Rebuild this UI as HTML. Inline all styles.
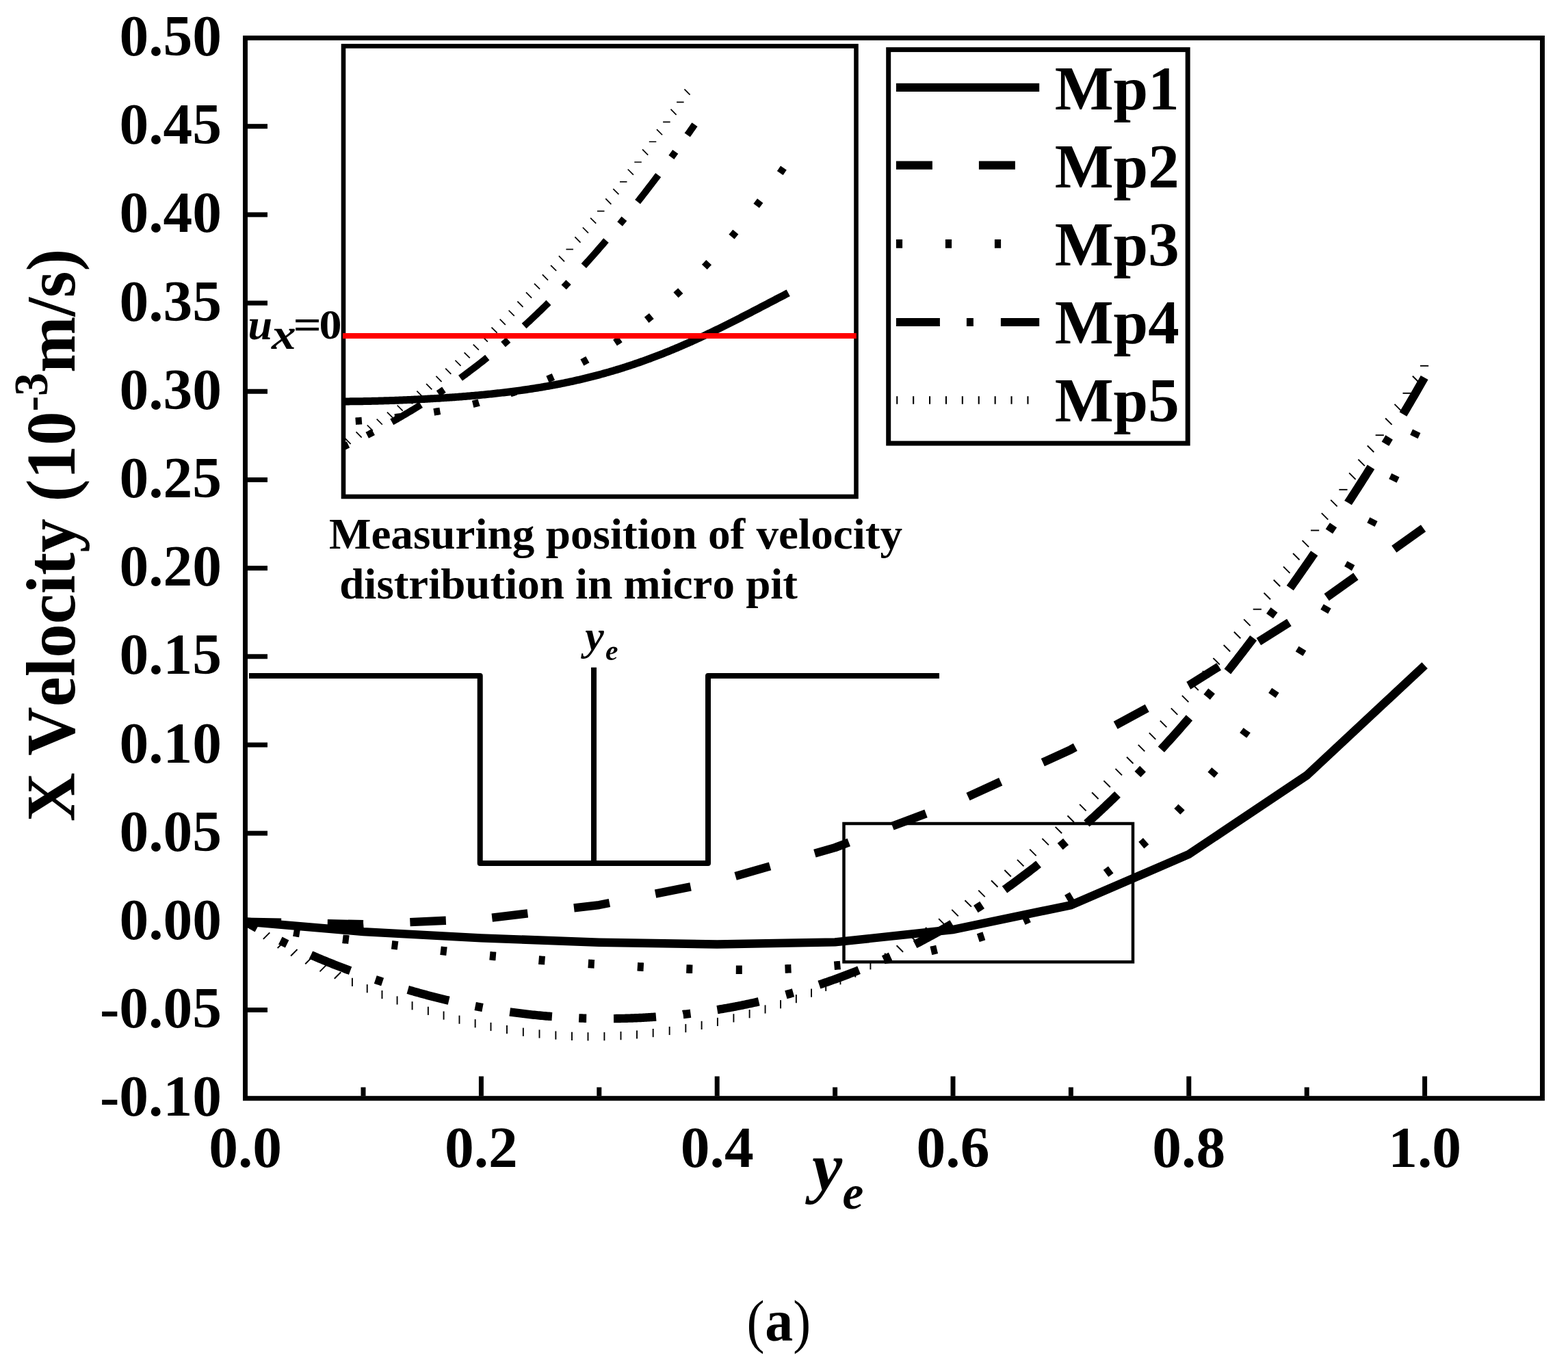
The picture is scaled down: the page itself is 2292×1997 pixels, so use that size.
<!DOCTYPE html><html><head><meta charset="utf-8"><title>X Velocity plot</title><style>html,body{margin:0;padding:0;background:#fff;}svg{display:block;font-kerning:none;font-variant-ligatures:none;}text{font-kerning:none;}</style></head><body><svg width="2292" height="1997" viewBox="0 0 2292 1997"><rect width="100%" height="100%" fill="#fff"/><g fill="none" stroke="#000" stroke-linejoin="round">
<path d="M358.6 1347.4 L531 1362.1 L703.4 1371.4 L875.8 1377.7 L1048.2 1380.5 L1220.6 1377.4 L1393 1359 L1565.4 1323.2 L1737.8 1248.9 L1910.2 1133.5 L2082.6 972.8" stroke-width="12.4" stroke-linejoin="miter"/>
<path d="M478.75 1350.19 L531 1351.32 L531.24 1351.3" stroke-width="12.4"/>
<path d="M599.38 1348.18 L651.82 1345.78" stroke-width="12.4"/>
<path d="M719.23 1341.54 L771.36 1335.38" stroke-width="12.4"/>
<path d="M839 1327.39 L875.8 1323.04 L890.94 1320.01" stroke-width="12.4"/>
<path d="M958.07 1306.61 L1009.56 1296.33" stroke-width="12.4"/>
<path d="M1075.1 1280.88 L1125.56 1266.39" stroke-width="12.4"/>
<path d="M1190.89 1247.63 L1220.6 1239.1 L1240.82 1231.54" stroke-width="12.4"/>
<path d="M1304.39 1207.77 L1353.56 1189.39" stroke-width="12.4"/>
<path d="M1414.99 1164.59 L1462.73 1142.75" stroke-width="12.4"/>
<path d="M1524.29 1114.59 L1565.4 1095.79 L1571.81 1092.3" stroke-width="12.4"/>
<path d="M1630.64 1060.29 L1676.75 1035.19" stroke-width="12.4"/>
<path d="M1737.24 1002.26 L1737.8 1001.96 L1781.73 974.4" stroke-width="12.4"/>
<path d="M1839.9 937.91 L1884.37 910.01" stroke-width="12.4"/>
<path d="M1939.15 873.16 L1981.88 842.67" stroke-width="12.4"/>
<path d="M2037.77 802.79 L2080.51 772.3" stroke-width="12.4"/>
<path d="M358.6 1347.6 L411.09 1348.73" stroke-width="12.4"/>
<path d="M429.22 1362.52 L430.6 1362.76 L432.6 1363.09 L434.6 1363.42 L436.6 1363.74 L438.1 1363.98" stroke-width="12.6"/>
<path d="M500.95 1372.68 L502.6 1372.88 L504.6 1373.12 L506.6 1373.37 L508.6 1373.61 L509.88 1373.77" stroke-width="12.6"/>
<path d="M572.61 1381.3 L574.6 1381.53 L576.6 1381.77 L578.6 1382.01 L580.6 1382.25 L581.55 1382.37" stroke-width="12.6"/>
<path d="M644.01 1389.66 L644.6 1389.73 L646.6 1389.95 L648.6 1390.18 L650.6 1390.4 L652.6 1390.62 L652.95 1390.66" stroke-width="12.6"/>
<path d="M715.91 1397.23 L716.6 1397.3 L718.6 1397.49 L720.6 1397.68 L722.6 1397.87 L724.6 1398.06 L724.86 1398.08" stroke-width="12.6"/>
<path d="M787.52 1403.51 L788.6 1403.6 L790.6 1403.76 L792.6 1403.91 L794.6 1404.07 L796.49 1404.22" stroke-width="12.6"/>
<path d="M859.82 1408.8 L860.6 1408.85 L862.6 1408.99 L864.6 1409.12 L866.6 1409.26 L868.6 1409.39 L868.8 1409.4" stroke-width="12.6"/>
<path d="M931.8 1413.26 L932.6 1413.31 L934.6 1413.42 L936.6 1413.53 L938.6 1413.63 L940.6 1413.74 L940.79 1413.75" stroke-width="12.6"/>
<path d="M1003.3 1416.49 L1004.6 1416.54 L1006.6 1416.6 L1008.6 1416.66 L1010.6 1416.73 L1012.29 1416.78" stroke-width="12.6"/>
<path d="M1075.8 1417.81 L1076.6 1417.82 L1078.6 1417.82 L1080.6 1417.82 L1082.6 1417.81 L1084.6 1417.81 L1084.8 1417.81" stroke-width="12.6"/>
<path d="M1147.5 1416.48 L1148.6 1416.44 L1150.6 1416.36 L1152.6 1416.27 L1154.6 1416.18 L1156.5 1416.1" stroke-width="12.6"/>
<path d="M1219.43 1411.83 L1220.6 1411.73 L1222.6 1411.54 L1224.6 1411.35 L1226.6 1411.16 L1228.39 1410.99" stroke-width="12.6"/>
<path d="M1292.4 1402.96 L1292.6 1402.93 L1294.6 1402.62 L1296.6 1402.3 L1298.6 1401.98 L1300.6 1401.66 L1301.29 1401.54" stroke-width="12.6"/>
<path d="M1360.85 1389.91 L1362.6 1389.51 L1364.6 1389.04 L1366.6 1388.57 L1368.6 1388.1 L1369.61 1387.86" stroke-width="12.6"/>
<path d="M1429.8 1371.14 L1430.6 1370.88 L1432.6 1370.24 L1434.6 1369.59 L1436.6 1368.93 L1438.36 1368.35" stroke-width="12.6"/>
<path d="M1496 1346.25 L1496.6 1345.98 L1498.6 1345.1 L1500.6 1344.21 L1502.6 1343.32 L1504.22 1342.58" stroke-width="12.6"/>
<path d="M1559.26 1314.23 L1560.6 1313.45 L1562.6 1312.28 L1564.6 1311.1 L1566.6 1309.91 L1567.02 1309.66" stroke-width="12.6"/>
<path d="M1616.52 1276.87 L1616.6 1276.81 L1618.6 1275.35 L1620.6 1273.88 L1622.6 1272.4 L1623.77 1271.53" stroke-width="12.6"/>
<path d="M1668.35 1235.63 L1668.6 1235.42 L1670.6 1233.68 L1672.6 1231.93 L1674.6 1230.17 L1675.12 1229.71" stroke-width="12.6"/>
<path d="M1720.78 1186.44 L1722.6 1184.59 L1724.6 1182.55 L1726.6 1180.5 L1727.07 1180.01" stroke-width="12.6"/>
<path d="M1770.17 1132.9 L1770.6 1132.41 L1772.6 1130.08 L1774.6 1127.75 L1776.03 1126.07" stroke-width="12.6"/>
<path d="M1817.18 1074.96 L1818.6 1073.1 L1820.6 1070.46 L1822.6 1067.82 L1822.62 1067.79" stroke-width="12.6"/>
<path d="M1859.35 1016.64 L1860.6 1014.82 L1862.6 1011.88 L1864.42 1009.2" stroke-width="12.6"/>
<path d="M1899.12 955.7 L1900.6 953.31 L1902.6 950.08 L1903.85 948.05" stroke-width="12.6"/>
<path d="M1935.77 894.14 L1936.6 892.68 L1938.6 889.17 L1940.22 886.31" stroke-width="12.6"/>
<path d="M1970.58 831.12 L1970.6 831.09 L1972.6 827.35 L1974.6 823.59 L1974.82 823.18" stroke-width="12.6"/>
<path d="M2003.89 767.22 L2004.6 765.82 L2006.6 761.88 L2007.96 759.19" stroke-width="12.6"/>
<path d="M2035.9 702.92 L2036.6 701.48 L2038.6 697.38 L2039.84 694.83" stroke-width="12.6"/>
<path d="M2066.85 638.45 L2068.6 634.76 L2070.6 630.52 L2070.7 630.31" stroke-width="12.6"/>
<path d="M362.47 1348.48 L362.6 1348.51 L364.6 1349.03 L366.6 1349.54 L368.6 1350.04 L370.6 1350.53 L371.2 1350.68" stroke-width="12.6"/>
<path d="M358.6 1347.26 L360.6 1348.44 L362.6 1349.61 L364.6 1350.77 L366.6 1351.92 L368.6 1353.07 L370.6 1354.21 L372.6 1355.34 L374.6 1356.47 L375.59 1357.02" stroke-width="12.4"/>
<path d="M454.54 1396.05 L454.6 1396.08 L456.6 1396.95 L458.6 1397.81 L460.6 1398.67 L462.6 1399.52 L464.6 1400.37 L466.6 1401.21 L468.6 1402.05 L470.6 1402.88 L472.6 1403.71 L474.6 1404.53 L476.6 1405.35 L478.6 1406.16 L480.6 1406.97 L482.6 1407.78 L484.6 1408.57 L486.6 1409.37 L488.6 1410.16 L490.6 1410.94 L492.6 1411.73 L494.6 1412.5 L496.6 1413.28 L498.6 1414.04 L500.6 1414.81 L502.6 1415.57 L504.6 1416.32 L506.6 1417.07 L508.6 1417.82 L510.6 1418.56 L512.08 1419.11" stroke-width="12.4"/>
<path d="M596.21 1446.97 L596.6 1447.08 L598.6 1447.66 L600.6 1448.24 L602.6 1448.82 L604.6 1449.39 L606.6 1449.95 L608.6 1450.52 L610.6 1451.08 L612.6 1451.63 L614.6 1452.19 L616.6 1452.73 L618.6 1453.28 L620.6 1453.82 L622.6 1454.35 L624.6 1454.89 L626.6 1455.42 L628.6 1455.94 L630.6 1456.46 L632.6 1456.98 L634.6 1457.49 L636.6 1458 L638.6 1458.5 L640.6 1459.01 L642.6 1459.5 L644.6 1460 L646.6 1460.48 L648.6 1460.97 L650.6 1461.45 L652.6 1461.93 L654.6 1462.4 L656.16 1462.76" stroke-width="12.4"/>
<path d="M745.25 1479.44 L746.6 1479.63 L748.6 1479.9 L750.6 1480.17 L752.6 1480.44 L754.6 1480.7 L756.6 1480.96 L758.6 1481.22 L760.6 1481.47 L762.6 1481.71 L764.6 1481.96 L766.6 1482.19 L768.6 1482.43 L770.6 1482.66 L772.6 1482.88 L774.6 1483.11 L776.6 1483.32 L778.6 1483.54 L780.6 1483.75 L782.6 1483.95 L784.6 1484.15 L786.6 1484.35 L788.6 1484.54 L790.6 1484.73 L792.6 1484.92 L794.6 1485.1 L796.6 1485.27 L798.6 1485.45 L800.6 1485.62 L802.6 1485.78 L804.6 1485.94 L806.6 1486.1 L806.88 1486.12" stroke-width="12.4"/>
<path d="M897.02 1489.1 L898.6 1489.09 L900.6 1489.06 L902.6 1489.03 L904.6 1489 L906.6 1488.96 L908.6 1488.92 L910.6 1488.88 L912.6 1488.83 L914.6 1488.78 L916.6 1488.72 L918.6 1488.66 L920.6 1488.59 L922.6 1488.53 L924.6 1488.45 L926.6 1488.38 L928.6 1488.3 L930.6 1488.21 L932.6 1488.13 L934.6 1488.03 L936.6 1487.94 L938.6 1487.84 L940.6 1487.74 L942.6 1487.63 L944.6 1487.52 L946.6 1487.4 L948.6 1487.28 L950.6 1487.16 L952.6 1487.03 L954.6 1486.9 L956.6 1486.77 L958.6 1486.63 L958.96 1486.6" stroke-width="12.4"/>
<path d="M1048.41 1476.17 L1048.6 1476.14 L1050.6 1475.81 L1052.6 1475.48 L1054.6 1475.14 L1056.6 1474.8 L1058.6 1474.46 L1060.6 1474.11 L1062.6 1473.75 L1064.6 1473.39 L1066.6 1473.03 L1068.6 1472.66 L1070.6 1472.29 L1072.6 1471.92 L1074.6 1471.54 L1076.6 1471.15 L1078.6 1470.77 L1080.6 1470.37 L1082.6 1469.98 L1084.6 1469.57 L1086.6 1469.17 L1088.6 1468.76 L1090.6 1468.34 L1092.6 1467.92 L1094.6 1467.5 L1096.6 1467.07 L1098.6 1466.64 L1100.6 1466.2 L1102.6 1465.76 L1104.6 1465.32 L1106.6 1464.87 L1108.6 1464.41 L1109.24 1464.26" stroke-width="12.4"/>
<path d="M1197.41 1439.59 L1198.6 1439.19 L1200.6 1438.52 L1202.6 1437.85 L1204.6 1437.17 L1206.6 1436.49 L1208.6 1435.8 L1210.6 1435.11 L1212.6 1434.41 L1214.6 1433.7 L1216.6 1432.99 L1218.6 1432.28 L1220.6 1431.56 L1222.6 1430.84 L1224.6 1430.11 L1226.6 1429.38 L1228.6 1428.64 L1230.6 1427.9 L1232.6 1427.15 L1234.6 1426.4 L1236.6 1425.64 L1238.6 1424.88 L1240.6 1424.11 L1242.6 1423.33 L1244.6 1422.56 L1246.6 1421.77 L1248.6 1420.98 L1250.6 1420.19 L1252.6 1419.39 L1254.6 1418.59 L1255.59 1418.19" stroke-width="12.4"/>
<path d="M1337.49 1380.58 L1338.6 1380.01 L1340.6 1378.98 L1342.6 1377.93 L1344.6 1376.89 L1346.6 1375.83 L1348.6 1374.77 L1350.6 1373.71 L1352.6 1372.64 L1354.6 1371.56 L1356.6 1370.48 L1358.6 1369.39 L1360.6 1368.3 L1362.6 1367.2 L1364.6 1366.09 L1366.6 1364.98 L1368.6 1363.86 L1370.6 1362.74 L1372.6 1361.61 L1374.6 1360.47 L1376.6 1359.33 L1378.6 1358.19 L1380.6 1357.03 L1382.6 1355.88 L1384.6 1354.71 L1386.6 1353.54 L1388.6 1352.37 L1390.6 1351.18 L1391.71 1350.52" stroke-width="12.4"/>
<path d="M1468.48 1300.44 L1468.6 1300.35 L1470.6 1298.92 L1472.6 1297.49 L1474.6 1296.05 L1476.6 1294.61 L1478.6 1293.16 L1480.6 1291.7 L1482.6 1290.24 L1484.6 1288.77 L1486.6 1287.29 L1488.6 1285.81 L1490.6 1284.32 L1492.6 1282.83 L1494.6 1281.33 L1496.6 1279.82 L1498.6 1278.31 L1500.6 1276.79 L1502.6 1275.26 L1504.6 1273.73 L1506.6 1272.19 L1508.6 1270.65 L1510.6 1269.1 L1512.6 1267.54 L1514.6 1265.98 L1516.6 1264.41 L1518.08 1263.24" stroke-width="12.4"/>
<path d="M1588.35 1203.87 L1588.6 1203.65 L1590.6 1201.84 L1592.6 1200.03 L1594.6 1198.21 L1596.6 1196.38 L1598.6 1194.55 L1600.6 1192.71 L1602.6 1190.86 L1604.6 1189.01 L1606.6 1187.15 L1608.6 1185.28 L1610.6 1183.41 L1612.6 1181.53 L1614.6 1179.64 L1616.6 1177.75 L1618.6 1175.85 L1620.6 1173.94 L1622.6 1172.03 L1624.6 1170.11 L1626.6 1168.18 L1628.6 1166.25 L1630.6 1164.31 L1632.6 1162.36 L1633.55 1161.43" stroke-width="12.4"/>
<path d="M1697.28 1095.67 L1698.6 1094.23 L1700.6 1092.05 L1702.6 1089.86 L1704.6 1087.66 L1706.6 1085.45 L1708.6 1083.24 L1710.6 1081.02 L1712.6 1078.79 L1714.6 1076.56 L1716.6 1074.32 L1718.6 1072.07 L1720.6 1069.81 L1722.6 1067.55 L1724.6 1065.28 L1726.6 1063 L1728.6 1060.72 L1730.6 1058.42 L1732.6 1056.13 L1734.6 1053.82 L1736.6 1051.5 L1738.47 1049.34" stroke-width="12.4"/>
<path d="M1794.26 981.7 L1794.6 981.28 L1796.6 978.75 L1798.6 976.22 L1800.6 973.68 L1802.6 971.13 L1804.6 968.58 L1806.6 966.02 L1808.6 963.45 L1810.6 960.88 L1812.6 958.3 L1814.6 955.72 L1816.6 953.12 L1818.6 950.52 L1820.6 947.92 L1822.6 945.31 L1824.6 942.69 L1826.6 940.06 L1828.6 937.43 L1830.6 934.79 L1832.2 932.67" stroke-width="12.4"/>
<path d="M1885.7 859.64 L1886.6 858.37 L1888.6 855.56 L1890.6 852.73 L1892.6 849.9 L1894.6 847.07 L1896.6 844.23 L1898.6 841.38 L1900.6 838.53 L1902.6 835.67 L1904.6 832.81 L1906.6 829.94 L1908.6 827.06 L1910.6 824.18 L1912.6 821.3 L1914.6 818.4 L1916.6 815.51 L1918.6 812.6 L1920.6 809.69 L1921.2 808.82" stroke-width="12.4"/>
<path d="M1970.56 735.02 L1970.6 734.95 L1972.6 731.88 L1974.6 728.8 L1976.6 725.71 L1978.6 722.62 L1980.6 719.51 L1982.6 716.41 L1984.6 713.29 L1986.6 710.17 L1988.6 707.04 L1990.6 703.9 L1992.6 700.76 L1994.6 697.6 L1996.6 694.45 L1998.6 691.28 L2000.6 688.11 L2002.6 684.92 L2003.95 682.78" stroke-width="12.4"/>
<path d="M2051.02 605.56 L2052.6 602.89 L2054.6 599.51 L2056.6 596.11 L2058.6 592.71 L2060.6 589.3 L2062.6 585.88 L2064.6 582.45 L2066.6 579.01 L2068.6 575.57 L2070.6 572.11 L2072.6 568.65 L2074.6 565.18 L2076.6 561.7 L2078.6 558.21 L2080.6 554.71 L2082.17 551.95" stroke-width="12.4"/>
<path d="M409.79 1375.13 L410.6 1375.54 L412.6 1376.54 L414.6 1377.53 L416.6 1378.51 L418.6 1379.49 L419.65 1380" stroke-width="12.4"/>
<path d="M548.73 1432.03 L550.6 1432.65 L552.6 1433.32 L554.6 1433.99 L556.6 1434.65 L558.6 1435.3 L559.17 1435.49" stroke-width="12.4"/>
<path d="M694.68 1471.01 L696.6 1471.38 L698.6 1471.76 L700.6 1472.13 L702.6 1472.51 L704.6 1472.87 L705.5 1473.04" stroke-width="12.4"/>
<path d="M846.2 1488.39 L846.6 1488.41 L848.6 1488.48 L850.6 1488.55 L852.6 1488.62 L854.6 1488.68 L856.6 1488.74 L857.19 1488.75" stroke-width="12.4"/>
<path d="M998.56 1483 L998.6 1482.99 L1000.6 1482.77 L1002.6 1482.54 L1004.6 1482.31 L1006.6 1482.07 L1008.6 1481.83 L1009.48 1481.72" stroke-width="12.4"/>
<path d="M1148.87 1454.29 L1150.6 1453.82 L1152.6 1453.26 L1154.6 1452.7 L1156.6 1452.14 L1158.6 1451.57 L1159.47 1451.32" stroke-width="12.4"/>
<path d="M1426.41 1328.99 L1426.6 1328.87 L1428.6 1327.58 L1430.6 1326.27 L1432.6 1324.96 L1434.6 1323.65 L1435.62 1322.97" stroke-width="12.4"/>
<path d="M1549.66 1237.54 L1550.6 1236.75 L1552.6 1235.07 L1554.6 1233.38 L1556.6 1231.68 L1558.06 1230.44" stroke-width="12.4"/>
<path d="M1662.96 1131.96 L1664.6 1130.27 L1666.6 1128.21 L1668.6 1126.14 L1670.6 1124.06 L1670.61 1124.05" stroke-width="12.4"/>
<path d="M1764.11 1018.93 L1764.6 1018.34 L1766.6 1015.92 L1768.6 1013.49 L1770.6 1011.06 L1771.1 1010.44" stroke-width="12.4"/>
<path d="M1856.05 900.66 L1856.6 899.91 L1858.6 897.19 L1860.6 894.45 L1862.55 891.78" stroke-width="12.4"/>
<path d="M1942.9 776.84 L1944.6 774.31 L1946.6 771.32 L1948.6 768.33 L1949.02 767.7" stroke-width="12.4"/>
<path d="M2024.94 648.88 L2026.6 646.16 L2028.6 642.88 L2030.6 639.6 L2030.67 639.49" stroke-width="12.4"/>
<path d="M1291.52 1402.81 L1292.6 1402.32 L1294.6 1401.41 L1296.6 1400.49 L1298.6 1399.57 L1300.6 1398.65 L1301.51 1398.22" stroke-width="12.4"/>
<path d="M384.82 1372.92L394.3 1363.44" stroke-width="1.9"/>
<path d="M405.69 1386.03L415.17 1376.56" stroke-width="1.9"/>
<path d="M425.07 1397.48L434.54 1388.01" stroke-width="1.9"/>
<path d="M446.25 1409.26L455.73 1399.78" stroke-width="1.9"/>
<path d="M467.47 1420.32L476.95 1410.84" stroke-width="1.9"/>
<path d="M488.77 1430.73L498.24 1421.26" stroke-width="1.9"/>
<path d="M514.9 1429.73L514.9 1441.93" stroke-width="1.9"/>
<path d="M536.72 1439.16L536.72 1451.36" stroke-width="1.9"/>
<path d="M558.47 1447.99L558.47 1460.19" stroke-width="1.9"/>
<path d="M580.57 1456.38L580.57 1468.58" stroke-width="1.9"/>
<path d="M602.58 1464.15L602.58 1476.35" stroke-width="1.9"/>
<path d="M625.85 1471.72L625.85 1483.92" stroke-width="1.9"/>
<path d="M648.57 1478.46L648.57 1490.66" stroke-width="1.9"/>
<path d="M671.48 1484.6L671.48 1496.8" stroke-width="1.9"/>
<path d="M694.64 1490.13L694.64 1502.33" stroke-width="1.9"/>
<path d="M717.5 1494.91L717.5 1507.11" stroke-width="1.9"/>
<path d="M740.97 1499.11L740.97 1511.31" stroke-width="1.9"/>
<path d="M764.83 1502.64L764.83 1514.84" stroke-width="1.9"/>
<path d="M788.49 1505.41L788.49 1517.61" stroke-width="1.9"/>
<path d="M812.36 1507.45L812.36 1519.65" stroke-width="1.9"/>
<path d="M835.99 1508.74L835.99 1520.94" stroke-width="1.9"/>
<path d="M859.5 1509.27L859.5 1521.47" stroke-width="1.9"/>
<path d="M883.4 1509.06L883.4 1521.26" stroke-width="1.9"/>
<path d="M907.5 1508.08L907.5 1520.28" stroke-width="1.9"/>
<path d="M931.01 1506.4L931.01 1518.6" stroke-width="1.9"/>
<path d="M954.67 1504L954.67 1516.2" stroke-width="1.9"/>
<path d="M978.64 1500.88L978.64 1513.08" stroke-width="1.9"/>
<path d="M1002.33 1497.11L1002.33 1509.31" stroke-width="1.9"/>
<path d="M1025.6 1492.79L1025.6 1504.99" stroke-width="1.9"/>
<path d="M1048.9 1487.85L1048.9 1500.05" stroke-width="1.9"/>
<path d="M1072.39 1482.26L1072.39 1494.46" stroke-width="1.9"/>
<path d="M1095.61 1476.11L1095.61 1488.31" stroke-width="1.9"/>
<path d="M1118.55 1469.38L1118.55 1481.58" stroke-width="1.9"/>
<path d="M1141.08 1462.12L1141.08 1474.32" stroke-width="1.9"/>
<path d="M1163.84 1454.08L1163.84 1466.28" stroke-width="1.9"/>
<path d="M1186.07 1445.52L1186.07 1457.72" stroke-width="1.9"/>
<path d="M1207.2 1436.71L1207.2 1448.91" stroke-width="1.9"/>
<path d="M1228.44 1427.15L1228.44 1439.35" stroke-width="1.9"/>
<path d="M1250.33 1416.57L1250.33 1428.77" stroke-width="1.9"/>
<path d="M1272.39 1405.16L1272.39 1417.36" stroke-width="1.9"/>
<path d="M1293.74 1393.44L1293.74 1405.64" stroke-width="1.9"/>
<path d="M1310.61 1382.27L1320.08 1391.74" stroke-width="1.9"/>
<path d="M1331.9 1369.28L1341.38 1378.76" stroke-width="1.9"/>
<path d="M1352.93 1355.85L1362.4 1365.33" stroke-width="1.9"/>
<path d="M1372.12 1343.09L1381.59 1352.57" stroke-width="1.9"/>
<path d="M1391.28 1329.89L1400.75 1339.36" stroke-width="1.9"/>
<path d="M1410.45 1316.21L1419.93 1325.69" stroke-width="1.9"/>
<path d="M1430.25 1301.61L1439.72 1311.08" stroke-width="1.9"/>
<path d="M1449.01 1287.29L1458.48 1296.77" stroke-width="1.9"/>
<path d="M1468.38 1272.03L1477.85 1281.51" stroke-width="1.9"/>
<path d="M1486.98 1256.91L1496.45 1266.39" stroke-width="1.9"/>
<path d="M1505.18 1241.66L1514.65 1251.14" stroke-width="1.9"/>
<path d="M1523.4 1225.93L1532.87 1235.41" stroke-width="1.9"/>
<path d="M1542.65 1208.81L1552.12 1218.29" stroke-width="1.9"/>
<path d="M1560.43 1192.53L1569.9 1202.01" stroke-width="1.9"/>
<path d="M1578.1 1175.9L1587.57 1185.38" stroke-width="1.9"/>
<path d="M1596.1 1158.5L1605.57 1167.97" stroke-width="1.9"/>
<path d="M1613.41 1141.31L1622.89 1150.79" stroke-width="1.9"/>
<path d="M1630.52 1123.91L1639.99 1133.39" stroke-width="1.9"/>
<path d="M1646.99 1106.76L1656.46 1116.23" stroke-width="1.9"/>
<path d="M1663.78 1088.86L1673.26 1098.34" stroke-width="1.9"/>
<path d="M1679.82 1071.4L1689.29 1080.87" stroke-width="1.9"/>
<path d="M1695.83 1053.59L1705.3 1063.06" stroke-width="1.9"/>
<path d="M1711.8 1035.45L1721.27 1044.93" stroke-width="1.9"/>
<path d="M1727.86 1016.84L1737.33 1026.32" stroke-width="1.9"/>
<path d="M1742.35 999.73L1751.83 1009.2" stroke-width="1.9"/>
<path d="M1757.93 980.99L1767.41 990.47" stroke-width="1.9"/>
<path d="M1773.38 962.08L1782.85 971.56" stroke-width="1.9"/>
<path d="M1788.67 943.03L1798.15 952.51" stroke-width="1.9"/>
<path d="M1803.87 923.79L1813.34 933.26" stroke-width="1.9"/>
<path d="M1818.15 905.43L1827.62 914.9" stroke-width="1.9"/>
<path d="M1831.69 890.71L1843.89 890.71" stroke-width="1.9"/>
<path d="M1847.54 866.79L1857.01 876.27" stroke-width="1.9"/>
<path d="M1861.71 847.77L1871.18 857.25" stroke-width="1.9"/>
<path d="M1876 828.33L1885.48 837.81" stroke-width="1.9"/>
<path d="M1890.04 808.99L1899.52 818.47" stroke-width="1.9"/>
<path d="M1903.6 790.1L1913.07 799.58" stroke-width="1.9"/>
<path d="M1916 775.42L1928.2 775.42" stroke-width="1.9"/>
<path d="M1931.79 750.11L1941.26 759.59" stroke-width="1.9"/>
<path d="M1945.16 730.83L1954.63 740.3" stroke-width="1.9"/>
<path d="M1957.34 715.83L1969.54 715.83" stroke-width="1.9"/>
<path d="M1972.08 691.41L1981.55 700.88" stroke-width="1.9"/>
<path d="M1985.37 671.64L1994.85 681.11" stroke-width="1.9"/>
<path d="M1998.79 651.51L2008.26 660.99" stroke-width="1.9"/>
<path d="M2010.64 636.23L2022.84 636.23" stroke-width="1.9"/>
<path d="M2025.12 611.46L2034.59 620.94" stroke-width="1.9"/>
<path d="M2038.47 590.88L2047.95 600.36" stroke-width="1.9"/>
<path d="M2050.48 574.85L2062.68 574.85" stroke-width="1.9"/>
<path d="M2064.83 549.75L2074.31 559.23" stroke-width="1.9"/>
<path d="M2075.92 534.83L2088.12 534.83" stroke-width="1.9"/>
</g>
<g fill="none" stroke="#000" stroke-linecap="butt">
<rect x="358.5" y="55.5" width="1896" height="1550.2" stroke-width="7" stroke-linejoin="miter"/>
<path d="M362 184.68 H391" stroke-width="7"/>
<path d="M362 313.87 H391" stroke-width="7"/>
<path d="M362 443.05 H391" stroke-width="7"/>
<path d="M362 572.23 H391" stroke-width="7"/>
<path d="M362 701.42 H391" stroke-width="7"/>
<path d="M362 830.6 H391" stroke-width="7"/>
<path d="M362 959.78 H391" stroke-width="7"/>
<path d="M362 1088.97 H391" stroke-width="7"/>
<path d="M362 1218.15 H391" stroke-width="7"/>
<path d="M362 1347.33 H391" stroke-width="7"/>
<path d="M362 1476.52 H391" stroke-width="7"/>
<path d="M531 1602.5 V1589.5" stroke-width="7"/>
<path d="M703.4 1602.5 V1573.5" stroke-width="7"/>
<path d="M875.8 1602.5 V1589.5" stroke-width="7"/>
<path d="M1048.2 1602.5 V1573.5" stroke-width="7"/>
<path d="M1220.6 1602.5 V1589.5" stroke-width="7"/>
<path d="M1393 1602.5 V1573.5" stroke-width="7"/>
<path d="M1565.4 1602.5 V1589.5" stroke-width="7"/>
<path d="M1737.8 1602.5 V1573.5" stroke-width="7"/>
<path d="M1910.2 1602.5 V1589.5" stroke-width="7"/>
<path d="M2082.6 1602.5 V1573.5" stroke-width="7"/>
</g>
<g font-family="Liberation Serif" font-weight="bold" font-size="85.5" text-anchor="end">
<text x="324" y="81.1">0.50</text>
<text x="324" y="210.28">0.45</text>
<text x="324" y="339.47">0.40</text>
<text x="324" y="468.65">0.35</text>
<text x="324" y="597.83">0.30</text>
<text x="324" y="727.02">0.25</text>
<text x="324" y="856.2">0.20</text>
<text x="324" y="985.38">0.15</text>
<text x="324" y="1114.57">0.10</text>
<text x="324" y="1243.75">0.05</text>
<text x="324" y="1372.93">0.00</text>
<text x="324" y="1502.12">-0.05</text>
<text x="324" y="1631.3">-0.10</text>
</g>
<g font-family="Liberation Serif" font-weight="bold" font-size="85.5" text-anchor="middle">
<text x="358.6" y="1706.3">0.0</text>
<text x="703.4" y="1706.3">0.2</text>
<text x="1048.2" y="1706.3">0.4</text>
<text x="1393" y="1706.3">0.6</text>
<text x="1737.8" y="1706.3">0.8</text>
<text x="2082.6" y="1706.3">1.0</text>
</g>
<g font-family="Liberation Serif" font-weight="bold" transform="translate(108.7 1200.9) rotate(-90) scale(0.9754 1)"><text x="0" y="0" font-size="101.5">X Velocity (10</text><text x="614.45" y="-39.4" font-size="69.7">-3</text><text x="672.51" y="0" font-size="101.5">m/s)</text></g>
<g font-family="Liberation Serif" font-weight="bold" font-style="italic"><text x="1186.9" y="1739.6" font-size="99.3">y</text><text x="1231.4" y="1767.3" font-size="69.5">e</text></g>
<g font-family="Liberation Serif" font-size="86"><text transform="translate(1091.6 1960.7) scale(0.91 1)">(</text><text transform="translate(1118.3 1960.4) scale(0.953 1)" font-weight="bold">a</text><text transform="translate(1159.3 1960.7) scale(0.905 1)">)</text></g>
<rect x="1233.5" y="1204" width="422.5" height="202.3" fill="none" stroke="#000" stroke-width="4.5"/>
<g fill="none" stroke="#000" stroke-width="8"><path d="M364 988 H701.7 V1262 H1035 V988 H1373" stroke-linejoin="round"/><path d="M868 975.8 V1262"/></g>
<g font-family="Liberation Serif" font-weight="bold" font-style="italic"><text x="855.2" y="949.5" font-size="62">y</text><text x="885" y="965.4" font-size="41.5">e</text></g>
<g font-family="Liberation Serif" font-weight="bold" font-size="62.5"><text transform="translate(480.9 801.9) scale(1.043 1)">Measuring position of velocity</text><text transform="translate(496.2 874.5) scale(1.04 1)">distribution in micro pit</text></g>
<defs><clipPath id="ic"><rect x="505" y="70.8" width="743" height="652.4"/></clipPath></defs>
<rect x="502" y="67.4" width="749.5" height="658.6" fill="#fff" stroke="none"/>
<g clip-path="url(#ic)" fill="none" stroke="#000" stroke-linejoin="round">
<path d="M502 586.92 L504 586.92 L506 586.91 L508 586.9 L510 586.89 L512 586.87 L514 586.85 L516 586.84 L518 586.81 L520 586.79 L522 586.77 L524 586.74 L526 586.71 L528 586.68 L530 586.64 L532 586.61 L534 586.57 L536 586.53 L538 586.49 L540 586.45 L542 586.4 L544 586.36 L546 586.31 L548 586.26 L550 586.21 L552 586.15 L554 586.1 L556 586.04 L558 585.98 L560 585.92 L562 585.86 L564 585.8 L566 585.73 L568 585.66 L570 585.6 L572 585.53 L574 585.46 L576 585.38 L578 585.31 L580 585.23 L582 585.16 L584 585.08 L586 585 L588 584.92 L590 584.83 L592 584.75 L594 584.66 L596 584.58 L598 584.49 L600 584.4 L602 584.3 L604 584.21 L606 584.11 L608 584.02 L610 583.92 L612 583.82 L614 583.72 L616 583.62 L618 583.51 L620 583.41 L622 583.3 L624 583.19 L626 583.08 L628 582.97 L630 582.85 L632 582.74 L634 582.62 L636 582.5 L638 582.38 L640 582.26 L642 582.14 L644 582.01 L646 581.88 L648 581.75 L650 581.62 L652 581.49 L654 581.35 L656 581.22 L658 581.08 L660 580.94 L662 580.8 L664 580.65 L666 580.51 L668 580.36 L670 580.21 L672 580.06 L674 579.9 L676 579.75 L678 579.59 L680 579.43 L682 579.26 L684 579.1 L686 578.93 L688 578.76 L690 578.59 L692 578.41 L694 578.24 L696 578.06 L698 577.88 L700 577.69 L702 577.51 L704 577.32 L706 577.13 L708 576.93 L710 576.73 L712 576.53 L714 576.33 L716 576.13 L718 575.92 L720 575.71 L722 575.5 L724 575.28 L726 575.06 L728 574.84 L730 574.61 L732 574.39 L734 574.16 L736 573.92 L738 573.68 L740 573.44 L742 573.2 L744 572.95 L746 572.7 L748 572.45 L750 572.19 L752 571.93 L754 571.67 L756 571.4 L758 571.13 L760 570.86 L762 570.58 L764 570.3 L766 570.02 L768 569.73 L770 569.44 L772 569.14 L774 568.84 L776 568.54 L778 568.23 L780 567.92 L782 567.61 L784 567.29 L786 566.97 L788 566.64 L790 566.31 L792 565.98 L794 565.64 L796 565.29 L798 564.95 L800 564.6 L802 564.24 L804 563.88 L806 563.52 L808 563.15 L810 562.77 L812 562.4 L814 562.02 L816 561.63 L818 561.24 L820 560.84 L822 560.44 L824 560.04 L826 559.63 L828 559.22 L830 558.8 L832 558.37 L834 557.95 L836 557.51 L838 557.07 L840 556.63 L842 556.18 L844 555.73 L846 555.28 L848 554.81 L850 554.35 L852 553.87 L854 553.4 L856 552.91 L858 552.43 L860 551.93 L862 551.44 L864 550.93 L866 550.43 L868 549.91 L870 549.39 L872 548.87 L874 548.34 L876 547.81 L878 547.27 L880 546.72 L882 546.17 L884 545.62 L886 545.06 L888 544.49 L890 543.92 L892 543.34 L894 542.76 L896 542.17 L898 541.58 L900 540.98 L902 540.37 L904 539.76 L906 539.15 L908 538.53 L910 537.9 L912 537.27 L914 536.63 L916 535.99 L918 535.34 L920 534.68 L922 534.02 L924 533.36 L926 532.69 L928 532.01 L930 531.33 L932 530.64 L934 529.95 L936 529.25 L938 528.55 L940 527.84 L942 527.12 L944 526.4 L946 525.67 L948 524.94 L950 524.21 L952 523.46 L954 522.71 L956 521.96 L958 521.2 L960 520.44 L962 519.67 L964 518.89 L966 518.11 L968 517.32 L970 516.53 L972 515.73 L974 514.93 L976 514.12 L978 513.31 L980 512.49 L982 511.67 L984 510.84 L986 510.01 L988 509.17 L990 508.32 L992 507.48 L994 506.62 L996 505.76 L998 504.9 L1000 504.03 L1002 503.16 L1004 502.28 L1006 501.39 L1008 500.51 L1010 499.61 L1012 498.71 L1014 497.81 L1016 496.9 L1018 495.99 L1020 495.08 L1022 494.16 L1024 493.23 L1026 492.3 L1028 491.37 L1030 490.43 L1032 489.49 L1034 488.54 L1036 487.59 L1038 486.64 L1040 485.68 L1042 484.72 L1044 483.75 L1046 482.79 L1048 481.81 L1050 480.84 L1052 479.86 L1054 478.87 L1056 477.88 L1058 476.89 L1060 475.9 L1062 474.9 L1064 473.91 L1066 472.9 L1068 471.9 L1070 470.89 L1072 469.88 L1074 468.86 L1076 467.85 L1078 466.83 L1080 465.81 L1082 464.79 L1084 463.76 L1086 462.73 L1088 461.7 L1090 460.67 L1092 459.64 L1094 458.61 L1096 457.57 L1098 456.53 L1100 455.49 L1102 454.45 L1104 453.41 L1106 452.37 L1108 451.33 L1110 450.29 L1112 449.24 L1114 448.2 L1116 447.15 L1118 446.11 L1120 445.06 L1122 444.02 L1124 442.97 L1126 441.93 L1128 440.88 L1130 439.84 L1132 438.79 L1134 437.75 L1136 436.71 L1138 435.67 L1140 434.63 L1142 433.6 L1144 432.56 L1146 431.53 L1148 430.49 L1150 429.46 L1152 428.44 L1152.3 428.28" stroke-width="11"/>
<path d="M519.72 615.75 L520 615.73 L522 615.58 L524 615.43 L526 615.27 L528 615.11 L528.89 615.04" stroke-width="10.6"/>
<path d="M634.24 602.45 L636 602.15 L638 601.8 L640 601.45 L642 601.1 L643.3 600.87" stroke-width="10.6"/>
<path d="M691.17 590.82 L692 590.62 L694 590.13 L696 589.64 L698 589.13 L700 588.63 L700.09 588.6" stroke-width="10.6"/>
<path d="M800.49 554.53 L802 553.87 L804 553 L806 552.11 L808 551.22 L808.91 550.81" stroke-width="10.6"/>
<path d="M850.88 530.01 L852 529.4 L854 528.3 L856 527.2 L858 526.08 L858.94 525.56" stroke-width="10.6"/>
<path d="M899.04 501.06 L900 500.43 L902 499.1 L904 497.76 L906 496.4 L906.68 495.94" stroke-width="10.6"/>
<path d="M945.13 467.75 L946 467.06 L948 465.48 L950 463.88 L952 462.27 L952.32 462.01" stroke-width="10.6"/>
<path d="M988.02 431.31 L990 429.49 L992 427.65 L994 425.79 L994.77 425.06" stroke-width="10.6"/>
<path d="M1029.82 390.33 L1030 390.14 L1032 388.04 L1034 385.92 L1036 383.79 L1036.14 383.64" stroke-width="10.6"/>
<path d="M1069.44 346.12 L1070 345.46 L1072 343.08 L1074 340.69 L1075.34 339.07" stroke-width="10.6"/>
<path d="M1105.63 300.88 L1106 300.39 L1108 297.75 L1110 295.09 L1111.17 293.53" stroke-width="10.6"/>
<path d="M1140.22 253.04 L1142 250.46 L1144 247.53 L1145.42 245.45" stroke-width="10.6"/>
<path d="M577.04 610.43 L578 610.33 L580 610.1 L582 609.86 L584 609.63 L586 609.39 L586.17 609.36" stroke-width="10.6"/>
<path d="M745.91 575.25 L746 575.22 L748 574.56 L750 573.89 L752 573.21 L754 572.53 L754.62 572.31" stroke-width="10.6"/>
<path d="M502 653.45 L504 652.49 L506 651.53 L508 650.57 L509.03 650.07" stroke-width="10"/>
<path d="M1004.7 197.49 L1006 195.64 L1008 192.8 L1010 189.95 L1012 187.09 L1014 184.22 L1015.5 182.07" stroke-width="10"/>
<path d="M572.76 616.92 L574 616.23 L576 615.1 L578 613.96 L580 612.82 L582 611.68 L584 610.53 L586 609.37 L588 608.21 L590 607.04 L592 605.86 L594 604.68 L596 603.49 L598 602.3 L600 601.1 L602 599.89 L604 598.68 L606 597.46 L608 596.23 L610 595 L612 593.76 L614 592.52 L615.33 591.69" stroke-width="10"/>
<path d="M672.99 552.74 L674 552.01 L676 550.54 L678 549.07 L680 547.6 L682 546.11 L684 544.62 L686 543.12 L688 541.61 L690 540.1 L692 538.57 L694 537.04 L696 535.5 L698 533.96 L700 532.4 L702 530.84 L704 529.27 L706 527.7 L708 526.11 L710 524.52 L712 522.91 L712.3 522.67" stroke-width="10"/>
<path d="M766.06 476.55 L768 474.77 L770 472.93 L772 471.08 L774 469.22 L776 467.36 L778 465.48 L780 463.6 L782 461.71 L784 459.81 L786 457.9 L788 455.99 L790 454.06 L792 452.13 L794 450.18 L796 448.23 L798 446.27 L800 444.31 L801.91 442.42" stroke-width="10"/>
<path d="M853.27 388.69 L854 387.89 L856 385.68 L858 383.46 L860 381.23 L862 379 L864 376.75 L866 374.5 L868 372.23 L870 369.96 L872 367.68 L874 365.39 L876 363.09 L878 360.79 L880 358.47 L882 356.15 L884 353.81 L885.96 351.52" stroke-width="10"/>
<path d="M932.05 295.2 L934 292.72 L936 290.17 L938 287.6 L940 285.03 L942 282.45 L944 279.87 L946 277.27 L948 274.67 L950 272.05 L952 269.43 L954 266.81 L956 264.17 L958 261.52 L960 258.87 L962 256.21 L962.2 255.94" stroke-width="10"/>
<path d="M536.71 636.28 L538 635.62 L540 634.58 L542 633.54 L544 632.5 L545.58 631.67" stroke-width="10"/>
<path d="M640.61 575.33 L642 574.4 L644 573.05 L646 571.7 L648 570.34 L648.9 569.73" stroke-width="10"/>
<path d="M735.46 503.53 L736 503.07 L738 501.36 L740 499.65 L742 497.93 L743.05 497.01" stroke-width="10"/>
<path d="M824.12 419.89 L826 417.93 L828 415.84 L830 413.75 L831.03 412.66" stroke-width="10"/>
<path d="M906.09 327.48 L908 325.15 L910 322.71 L912 320.26 L912.42 319.74" stroke-width="10"/>
<path d="M981.39 229.99 L982 229.15 L984 226.4 L986 223.65 L987.26 221.9" stroke-width="10"/>
<path d="M504.48 640.92L512.62 649.05" stroke-width="1.7"/>
<path d="M520.53 631.46L528.66 639.59" stroke-width="1.7"/>
<path d="M536.73 621.51L544.87 629.64" stroke-width="1.7"/>
<path d="M550.69 612.62L558.83 620.75" stroke-width="1.7"/>
<path d="M565.9 602.58L574.03 610.71" stroke-width="1.7"/>
<path d="M580.59 592.5L588.72 600.63" stroke-width="1.7"/>
<path d="M594.87 582.35L603 590.48" stroke-width="1.7"/>
<path d="M609.38 571.66L617.51 579.8" stroke-width="1.7"/>
<path d="M623.13 561.19L631.26 569.32" stroke-width="1.7"/>
<path d="M637.4 549.94L645.53 558.07" stroke-width="1.7"/>
<path d="M651.19 538.7L659.32 546.84" stroke-width="1.7"/>
<path d="M665.42 526.73L673.55 534.86" stroke-width="1.7"/>
<path d="M678.61 515.28L686.74 523.41" stroke-width="1.7"/>
<path d="M691.74 503.54L699.87 511.67" stroke-width="1.7"/>
<path d="M704.75 491.55L712.88 499.69" stroke-width="1.7"/>
<path d="M718.49 478.55L726.62 486.68" stroke-width="1.7"/>
<path d="M730.68 466.68L738.81 474.81" stroke-width="1.7"/>
<path d="M743.64 453.74L751.77 461.87" stroke-width="1.7"/>
<path d="M756.38 440.68L764.51 448.81" stroke-width="1.7"/>
<path d="M769 427.42L777.13 435.55" stroke-width="1.7"/>
<path d="M780.98 414.54L789.11 422.67" stroke-width="1.7"/>
<path d="M792.88 401.46L801.01 409.59" stroke-width="1.7"/>
<path d="M805.04 387.79L813.17 395.92" stroke-width="1.7"/>
<path d="M816.9 374.18L825.03 382.31" stroke-width="1.7"/>
<path d="M827.46 364.5L837.96 364.5" stroke-width="1.7"/>
<path d="M840.39 346.41L848.52 354.54" stroke-width="1.7"/>
<path d="M851.82 332.51L859.95 340.64" stroke-width="1.7"/>
<path d="M863.07 318.58L871.2 326.71" stroke-width="1.7"/>
<path d="M873 308.64L883.5 308.64" stroke-width="1.7"/>
<path d="M885.25 290.41L893.38 298.55" stroke-width="1.7"/>
<path d="M896.31 276.04L904.44 284.17" stroke-width="1.7"/>
<path d="M905.98 265.77L916.48 265.77" stroke-width="1.7"/>
<path d="M917.75 247.52L925.89 255.65" stroke-width="1.7"/>
<path d="M927.3 237.01L937.8 237.01" stroke-width="1.7"/>
<path d="M939.06 218.41L947.19 226.54" stroke-width="1.7"/>
<path d="M948.79 207.26L959.29 207.26" stroke-width="1.7"/>
<path d="M959.95 189.13L968.08 197.26" stroke-width="1.7"/>
<path d="M969.14 178.39L979.64 178.39" stroke-width="1.7"/>
<path d="M980.46 159.71L988.59 167.85" stroke-width="1.7"/>
<path d="M989.1 149.47L999.6 149.47" stroke-width="1.7"/>
<path d="M1000.43 130.47L1008.57 138.6" stroke-width="1.7"/>
</g>
<rect x="502" y="67.4" width="749.5" height="658.6" fill="none" stroke="#000" stroke-width="6.6"/>
<path d="M501 491 H1251.8" stroke="#ff0000" stroke-width="8" fill="none"/>
<g font-family="Liberation Serif" font-weight="bold"><text x="362.6" y="496.4" font-size="64" font-style="italic">u</text><text transform="translate(396.9 510) scale(1.115 1)" font-size="64" font-style="italic">x</text><text transform="translate(428.4 495.2) scale(1.174 1)" font-size="62">=</text><text transform="translate(466.5 495.2) scale(1.065 1)" font-size="62">0</text></g>
<rect x="1298.7" y="72.6" width="437.5" height="575.5" fill="#fff" stroke="#000" stroke-width="7"/>
<g fill="none" stroke="#000" stroke-width="12.2">
<path d="M1309.9 127.8 H1519.2"/>
<path d="M1309.9 241.7 H1519.2" stroke-dasharray="53 68"/>
<path d="M1309.9 356.3 H1519.2" stroke-dasharray="9.2 62.8" stroke-width="12.8"/>
<path d="M1309.9 471 H1519.2" stroke-dasharray="64 39 10 40"/>
<path d="M1310.2 585 H1519.2" stroke-dasharray="2.1 21.8" stroke-width="11.7"/>
</g>
<g font-family="Liberation Serif" font-weight="bold" font-size="91">
<text x="1541.7" y="159.7">Mp1</text>
<text x="1541.7" y="273.75">Mp2</text>
<text x="1541.7" y="387.8">Mp3</text>
<text x="1541.7" y="501.85">Mp4</text>
<text x="1541.7" y="615.9">Mp5</text>
</g></svg></body></html>
